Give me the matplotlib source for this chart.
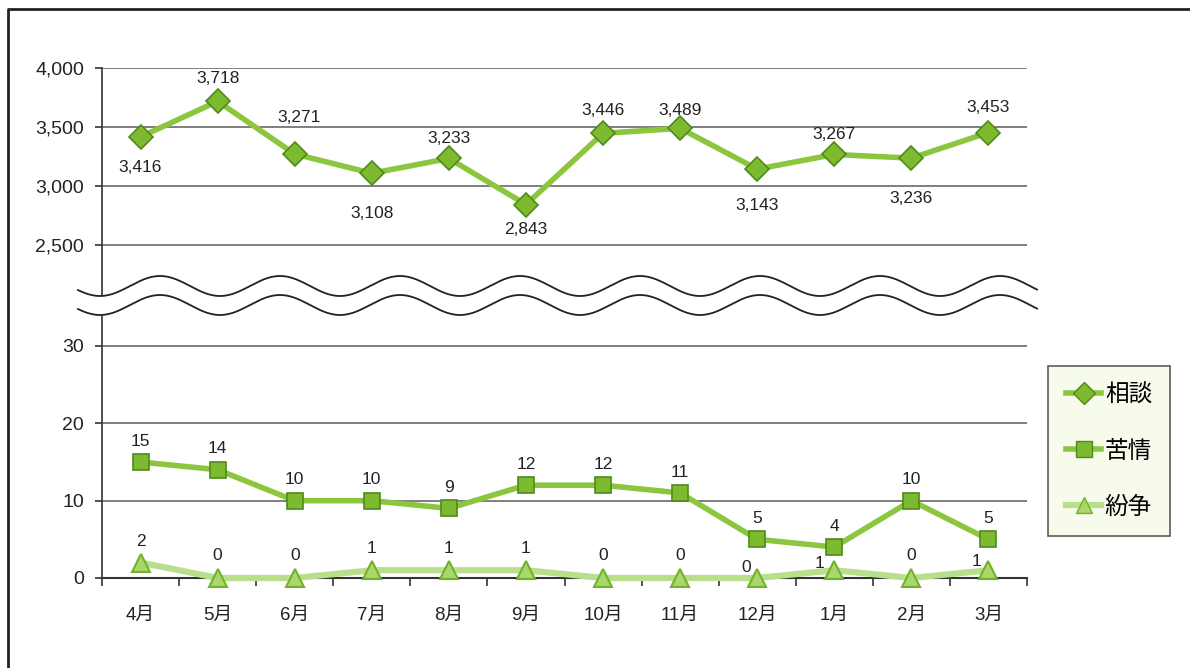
import numpy as np
import matplotlib.pyplot as plt
from matplotlib.lines import Line2D
from matplotlib.ticker import FuncFormatter

plt.rcParams['font.family'] = ['Liberation Sans', 'Noto Sans CJK JP', 'DejaVu Sans']

months = ['4月', '5月', '6月', '7月', '8月', '9月', '10月', '11月', '12月', '1月', '2月', '3月']
soudan = [3416, 3718, 3271, 3108, 3233, 2843, 3446, 3489, 3143, 3267, 3236, 3453]
kujou = [15, 14, 10, 10, 9, 12, 12, 11, 5, 4, 10, 5]
funsou = [2, 0, 0, 1, 1, 1, 0, 0, 0, 1, 0, 1]

# label offsets in pixels (dx, dy), positive dy = above the marker
soudan_off = [(0, -31), (0, 23), (4, 37), (0, -40), (0, 20), (0, -25),
              (0, 23), (0, 18), (0, -36), (0, 20), (0, -40), (0, 25)]
funsou_off = [(0, 21), (0, 22), (0, 22), (0, 22), (0, 22), (0, 22),
              (0, 22), (0, 22), (-11, 10), (-15, 7), (0, 22), (-12, 9)]

W, H = 1190, 668
fig = plt.figure(figsize=(W / 100, H / 100), dpi=100)

def fx(px):
    return px / W

def fy(py):
    return 1 - py / H

left, right = 102, 1027
ax_top = fig.add_axes([fx(left), fy(295), fx(right - left), fy(68) - fy(295)])
ax_bot = fig.add_axes([fx(left), fy(578), fx(right - left), fy(305) - fy(578)])

x = np.arange(len(months))
grid_c = '#6a6a6a'
line_c = '#8cc63e'
mk_face = '#7dba2f'
mk_edge = '#4f8a1c'
light_c = '#b9de8c'
tri_face = '#aad66c'
tri_edge = '#72b22a'
txt_c = '#222222'

# upper panel: 相談
ax_top.set_ylim(2076, 4000)
ax_top.set_xlim(-0.5, 11.5)
for v in [2500, 3000, 3500, 4000]:
    ax_top.axhline(v, color=grid_c, lw=1.2, zorder=1)
ax_top.plot(x, soudan, color=line_c, lw=4, marker='D', ms=12,
            mfc=mk_face, mec=mk_edge, mew=1.2, zorder=3)
for i, v in enumerate(soudan):
    dx, dy = soudan_off[i]
    ax_top.annotate(f'{v:,}', (x[i], v), xytext=(dx * 0.72, dy * 0.72),
                    textcoords='offset points', ha='center', va='center',
                    fontsize=12.5, color=txt_c, zorder=4)
ax_top.set_yticks([2500, 3000, 3500, 4000])
ax_top.yaxis.set_major_formatter(FuncFormatter(lambda v, p: f'{int(v):,}'))
ax_top.set_xticks([])
for s in ['top', 'right', 'bottom']:
    ax_top.spines[s].set_visible(False)

# lower panel: 苦情 and 紛争
ax_bot.set_ylim(0, 35.3)
ax_bot.set_xlim(-0.5, 11.5)
for v in [10, 20, 30]:
    ax_bot.axhline(v, color=grid_c, lw=1.2, zorder=1)
ax_bot.plot(x, funsou, color=light_c, lw=4.5, marker='^', ms=13,
            mfc=tri_face, mec=tri_edge, mew=1.5, zorder=3, clip_on=False)
ax_bot.plot(x, kujou, color=line_c, lw=4, marker='s', ms=12,
            mfc=mk_face, mec=mk_edge, mew=1.2, zorder=4, clip_on=False)
for i, v in enumerate(kujou):
    ax_bot.annotate(str(v), (x[i], v), xytext=(0, 15), textcoords='offset points',
                    ha='center', va='center', fontsize=12.5, color=txt_c, zorder=5)
for i, v in enumerate(funsou):
    dx, dy = funsou_off[i]
    ax_bot.annotate(str(v), (x[i], v), xytext=(dx * 0.72, dy * 0.72),
                    textcoords='offset points', ha='center', va='center',
                    fontsize=12.5, color=txt_c, zorder=5)
ax_bot.set_yticks([0, 10, 20, 30])
ax_bot.set_xticks(x)
ax_bot.set_xticklabels(months)
ax_bot.set_xticks(np.arange(-0.5, 12, 1), minor=True)
ax_bot.tick_params(axis='x', which='major', length=0, pad=21, labelsize=13.5)
ax_bot.tick_params(axis='x', which='minor', length=6, width=1.2, direction='out', color='#333333')
for s in ['top', 'right']:
    ax_bot.spines[s].set_visible(False)
ax_bot.spines['bottom'].set_color('#333333')
ax_bot.spines['bottom'].set_linewidth(1.5)

for ax in (ax_top, ax_bot):
    ax.spines['left'].set_color('#333333')
    ax.spines['left'].set_linewidth(1.2)
    ax.tick_params(axis='y', length=5, width=1.2, pad=8, labelsize=14,
                   color='#333333', labelcolor=txt_c)
    ax.tick_params(axis='x', labelcolor=txt_c)
    ax.set_facecolor('none')

# wavy break between the two panels, drawn in pixel space
ov = fig.add_axes([0, 0, 1, 1], zorder=10)
ov.set_xlim(0, W)
ov.set_ylim(H, 0)
ov.axis('off')
ov.patch.set_alpha(0)
wx = np.linspace(78, 1037, 800)
wy1 = 286 - 10 * np.cos(2 * np.pi * (wx - 160) / 120)
wy2 = wy1 + 19
ov.fill_between(wx, wy1, wy2, color='white', lw=0)
ov.plot(wx, wy1, color='#222222', lw=1.3)
ov.plot(wx, wy2, color='#222222', lw=1.3)

# outer frame
ov.plot([8, 8, W + 5], [H + 5, 9, 9], color='#222222', lw=2)

handles = [
    Line2D([], [], color=line_c, lw=4, marker='D', ms=11, mfc=mk_face, mec=mk_edge),
    Line2D([], [], color=line_c, lw=4, marker='s', ms=11, mfc=mk_face, mec=mk_edge),
    Line2D([], [], color=light_c, lw=4.5, marker='^', ms=12, mfc=tri_face, mec=tri_edge),
]
leg = fig.legend(handles, ['相談', '苦情', '紛争'], loc='center',
                 bbox_to_anchor=(fx(1109), fy(451)),
                 prop={'family': ['Noto Sans CJK JP'], 'size': 17},
                 handlelength=1.5, handletextpad=0.15, labelspacing=1.4,
                 borderpad=0.75, borderaxespad=0, frameon=True, fancybox=False)
leg.get_frame().set_facecolor('#f6fbe6')
leg.get_frame().set_edgecolor('#333333')
leg.get_frame().set_linewidth(1.2)
leg.set_zorder(20)

fig.savefig('out.png', dpi=100)
